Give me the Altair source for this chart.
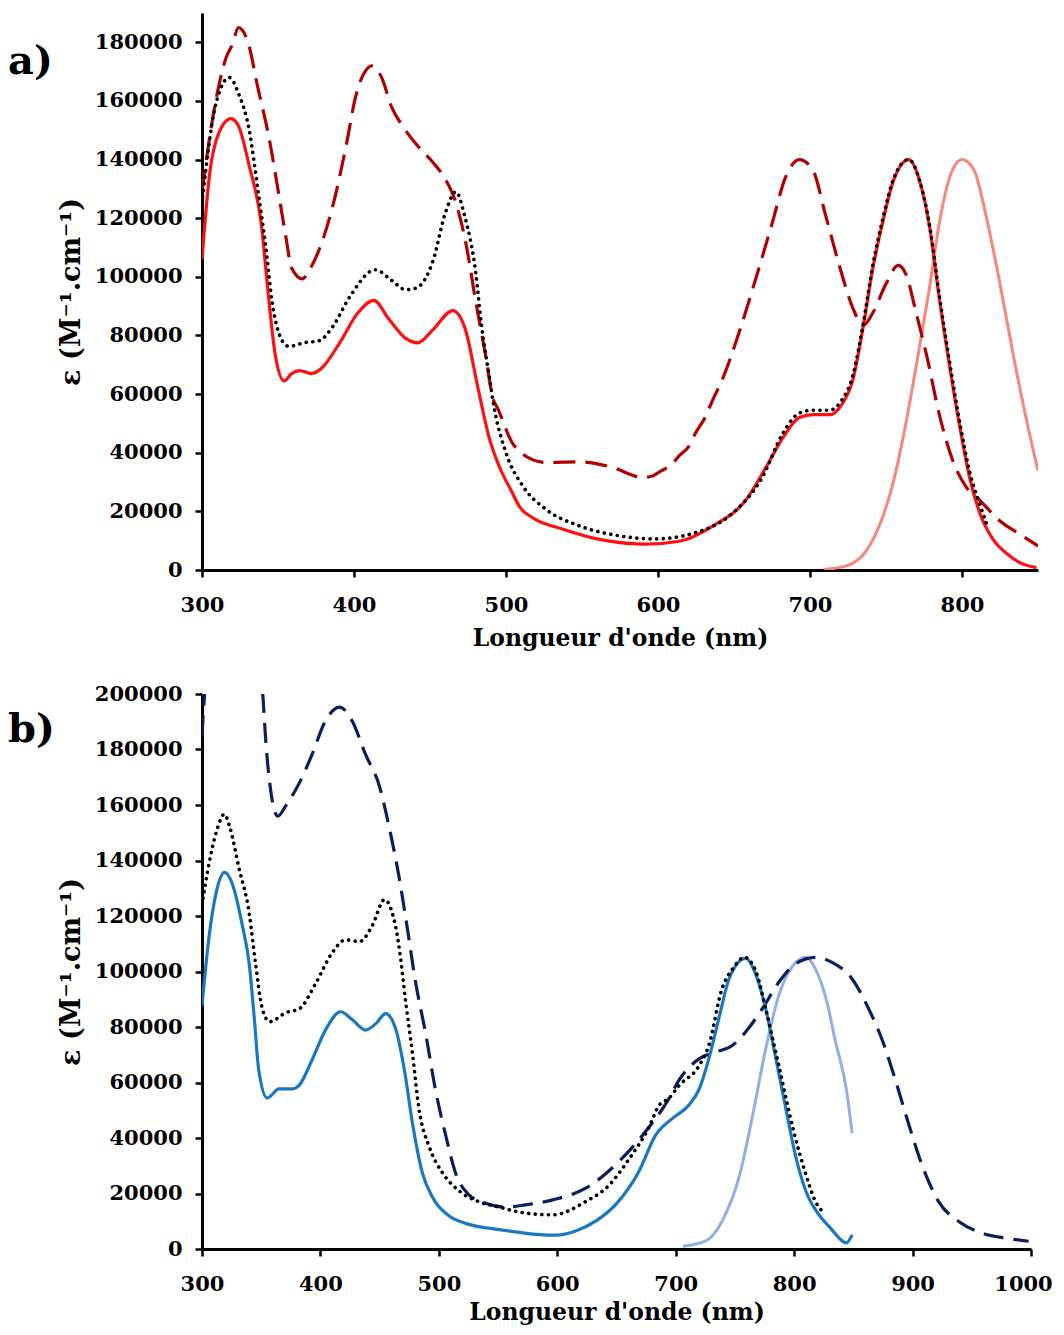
import altair as alt
import pandas as pd

FONT = "DejaVu Serif"
X_TITLE = "Longueur d'onde (nm)"
Y_TITLE = "ε (M⁻¹.cm⁻¹)"

# ---------------- Panel a) ----------------
a_abs_nm = [300, 305, 311, 319, 324, 331, 339, 344, 348, 354, 359, 364, 372, 379, 390, 403, 413, 423, 434, 442,
            452, 465, 473, 482, 489, 495, 504, 509, 517, 537, 566, 592, 614, 636, 658, 671, 682, 693, 702, 713,
            721, 728, 735, 741, 748, 755, 765, 772, 779, 785, 792, 799, 805, 812, 821, 830, 838, 849]
a_abs_eps = [106000, 135000, 149000, 154000, 151500, 138000, 118000, 92000, 74000, 64500, 67000, 68000, 67000, 69000,
             77000, 88000, 92000, 85500, 79000, 77500, 82000, 88500, 82500, 61000, 45000, 36000, 26500, 21500, 18000,
             14000, 10000, 8800, 9800, 15000, 24000, 35000, 45000, 52000, 53000, 53000, 56500, 64500, 83000, 102000,
             119000, 133000, 140000, 133000, 116000, 93000, 69000, 47500, 31500, 19000, 10000, 5400, 2500, 800]

a_dot_nm = [300, 309, 318, 324, 331, 337, 342, 346, 353, 357, 368, 377, 386, 397, 414, 425, 434, 441, 452, 460,
            467, 473, 480, 484, 489, 492, 500, 511, 526, 548, 574, 598, 625, 647, 669, 682, 693, 702, 713, 721,
            728, 735, 741, 748, 755, 765, 772, 779, 785, 792, 799, 805, 812, 817]
a_dot_eps = [125000, 158800, 168000, 162600, 150200, 129000, 110000, 92000, 78000, 76300, 77600, 78200, 83000, 93000,
             102400, 98700, 95600, 96200, 105500, 121600, 129000, 120400, 101800, 83000, 66000, 56000, 40000, 28700,
             20800, 15100, 11700, 10600, 12800, 18500, 32000, 46500, 53500, 54500, 54500, 58000, 66000, 84000, 103000,
             120000, 133500, 140000, 133000, 116500, 94000, 70500, 49000, 33500, 22000, 14500]

a_dash_nm = [300, 307, 316, 320, 324, 331, 336, 344, 351, 355, 359, 366, 370, 377, 386, 395, 401, 408, 412, 418,
             425, 432, 441, 452, 460, 467, 474, 480, 487, 491, 495, 504, 511, 526, 548, 570, 590, 596, 601, 609,
             614, 620, 625, 631, 636, 642, 653, 664, 675, 684, 693, 702, 710, 719, 728, 735, 741, 750, 758, 763,
             770, 777, 785, 794, 803, 812, 825, 838, 850]
a_dash_eps = [129000, 154000, 175000, 179300, 185000, 178700, 166300, 147700, 126600, 114200, 103000, 99300, 101800,
              109200, 124100, 145200, 161300, 170600, 172000, 168200, 157600, 151400, 145200, 139000, 133400, 125300,
              110400, 91800, 72000, 59400, 54600, 43500, 39500, 36700, 36900, 35000, 31600, 32000, 33500, 36000,
              39000, 42000, 47000, 52000, 58000, 64600, 80500, 98800, 118100, 134100, 140000, 136300, 121500, 104400,
              89600, 83400, 87400, 97600, 103900, 101000, 87400, 72600, 53200, 37200, 28100, 23600, 16700, 12200, 8200]

a_em_nm = [709, 724, 737, 746, 755, 763, 772, 779, 785, 792, 800, 808, 816, 825, 834, 843, 850]
a_em_eps = [200, 1400, 6500, 15600, 30400, 49800, 76000, 97600, 118100, 134100, 140000, 136300, 120400, 97600,
            72600, 49800, 33800]

# ---------------- Panel b) ----------------
b_abs_nm = [300, 306, 312, 319, 326, 334, 340, 344, 348, 355, 365, 376, 382, 393, 404, 417, 427, 438, 447, 455,
            464, 471, 478, 486, 495, 509, 523, 551, 568, 585, 599, 616, 633, 651, 669, 683, 697, 711, 720, 728,
            737, 745, 759, 768, 776, 784, 793, 801, 810, 821, 832, 838, 844, 849]
b_abs_eps = [87800, 112700, 128500, 135700, 131100, 116700, 102300, 83900, 64200, 54400, 57700, 57700, 59000, 68200,
             78700, 85500, 82600, 78900, 81300, 84800, 78700, 64200, 44600, 27500, 18400, 11800, 9200, 7000, 6000,
             5200, 5000, 6600, 10200, 16800, 28000, 41000, 47000, 51800, 57800, 68600, 84100, 97300, 104700, 98500,
             86500, 69800, 50600, 33900, 20700, 12300, 6900, 3900, 2200, 5100]

b_dot_nm = [300, 306, 312, 319, 323, 331, 340, 345, 351, 357, 371, 382, 396, 410, 421, 433, 444, 454, 461, 466,
            472, 478, 483, 492, 503, 517, 534, 551, 568, 596, 624, 644, 661, 677, 686, 694, 703, 720, 728, 739,
            748, 758, 768, 776, 787, 799, 810, 818, 824]
b_dot_eps = [124000, 139000, 150100, 156700, 152700, 137700, 120600, 103600, 86500, 81900, 85200, 86500, 95700,
             106800, 111400, 110800, 116700, 125900, 120600, 110100, 89100, 69500, 51100, 36700, 27500, 21000, 17000,
             15100, 13300, 12300, 17100, 23100, 32700, 43500, 51800, 54200, 59000, 66200, 73400, 93700, 100900,
             105100, 99700, 86500, 66200, 43500, 26700, 17100, 13500]

b_dash_nm = [300, 303, 315, 330, 345, 351, 354, 358, 364, 371, 382, 393, 404, 416, 427, 438, 450, 458, 466, 473,
             480, 489, 497, 506, 514, 525, 540, 556, 573, 596, 624, 652, 672, 694, 703, 720, 734, 748, 759, 773,
             787, 801, 818, 832, 849, 863, 875, 886, 897, 908, 922, 939, 959, 979, 998]
b_dash_eps = [185000, 205000, 240000, 250000, 225000, 201900, 182200, 165200, 156000, 159900, 167800, 178300, 190100,
              195300, 190100, 178300, 166500, 152100, 135000, 116700, 97000, 77300, 57700, 40600, 27500, 19700, 16400,
              15100, 15900, 17700, 21900, 31500, 41000, 54000, 61000, 68600, 71000, 73400, 78200, 86500, 96100,
              102700, 105100, 103300, 97300, 86500, 74600, 60200, 44600, 30200, 17100, 9900, 5700, 3900, 2800]

b_em_nm = [706, 725, 739, 754, 765, 776, 787, 799, 810, 818, 827, 835, 844, 849]
b_em_eps = [1000, 2800, 9900, 26700, 48200, 72200, 91300, 102100, 105100, 100900, 90100, 74600, 57800, 41700]

# ---------------- styles ----------------
DOT = [0.1, 6.5]


def line_layer(nm, eps, color, width, dash, x_enc, y_enc):
    df = pd.DataFrame({"nm": nm, "eps": eps})
    kw = dict(color=color, strokeWidth=width, interpolate="monotone", clip=True)
    if dash is not None:
        kw["strokeDash"] = dash
        if dash == DOT:
            kw["strokeCap"] = "round"
    return alt.Chart(df).mark_line(**kw).encode(x=x_enc, y=y_enc)


def panel(series, xdom, xticks, ydom, yticks, w, h, label, label_y, x_title_pad, last_shift):
    x_enc = alt.X("nm:Q", scale=alt.Scale(domain=xdom, nice=False, zero=False),
                  axis=alt.Axis(values=xticks, title=X_TITLE, format="d", labelFlush=False,
                                titlePadding=x_title_pad,
                                labelOffset={"condition": {"test": f"datum.value == {xdom[1]}",
                                                           "value": last_shift},
                                             "value": 0}))
    y_enc = alt.Y("eps:Q", scale=alt.Scale(domain=ydom, nice=False, zero=True),
                  axis=alt.Axis(values=yticks, title=Y_TITLE, format="d", labelFlush=False))
    layers = [line_layer(nm, eps, c, wd, d, x_enc, y_enc) for (nm, eps, c, wd, d) in series]
    txt = alt.Chart(pd.DataFrame({"t": [label]})).mark_text(
        font=FONT, fontSize=40, fontWeight="bold", color="black", align="left", baseline="alphabetic"
    ).encode(text="t:N", x=alt.value(-194), y=alt.value(label_y))
    return alt.layer(*layers, txt).properties(width=w, height=h)


panel_a = panel(
    [
        (a_em_nm, a_em_eps, "#F7877A", 3, None),
        (a_dash_nm, a_dash_eps, "#B00000", 3.2, [22, 10]),
        (a_abs_nm, a_abs_eps, "#FF1010", 3.2, None),
        (a_dot_nm, a_dot_eps, "#000000", 3.6, DOT),
    ],
    [300, 850], [300, 400, 500, 600, 700, 800],
    [0, 190000], list(range(0, 180001, 20000)),
    836, 557, "a)", 61, 11, 0,
)

panel_b = panel(
    [
        (b_em_nm, b_em_eps, "#94AEE6", 3, None),
        (b_dash_nm, b_dash_eps, "#0B1F5E", 3.2, [20, 10]),
        (b_abs_nm, b_abs_eps, "#1A78C2", 3.2, None),
        (b_dot_nm, b_dot_eps, "#000000", 3.6, DOT),
    ],
    [300, 1000], [300, 400, 500, 600, 700, 800, 900, 1000],
    [0, 200000], list(range(0, 200001, 20000)),
    829, 555, "b)", 48, 6, -8,
)

chart = alt.vconcat(panel_a, panel_b, spacing=33).properties(
    padding={"left": 0, "top": 5, "right": 0, "bottom": 4}
).configure_view(stroke=None).configure_axis(
    grid=False,
    domainColor="black",
    domainWidth=3,
    tickColor="black",
    tickWidth=2.5,
    tickSize=7,
    labelFont=FONT,
    labelFontSize=21,
    labelFontWeight="bold",
    labelColor="black",
    titleFont=FONT,
    titleFontWeight="bold",
    titleColor="black",
).configure_axisX(
    labelPadding=17, titleFontSize=23.5
).configure_axisY(
    labelPadding=13, titlePadding=9, titleFontSize=27
)

chart.save("out.html", embed_options={"renderer": "svg", "actions": False})
